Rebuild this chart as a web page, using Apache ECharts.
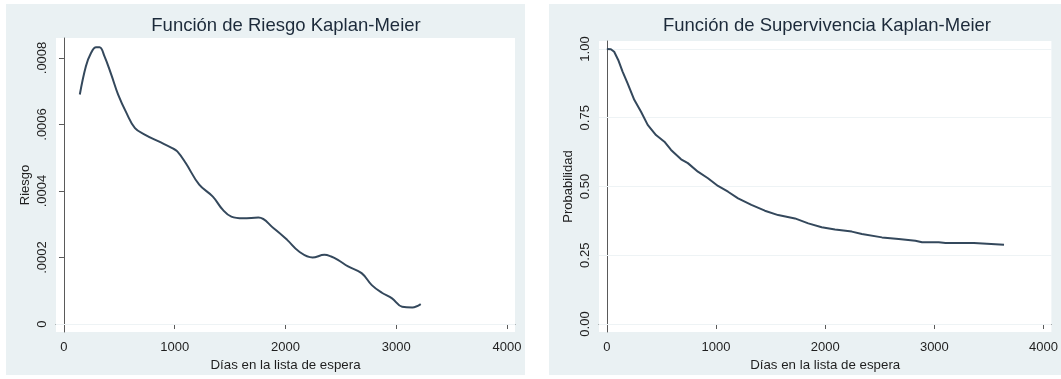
<!DOCTYPE html>
<html>
<head>
<meta charset="utf-8">
<script src="https://cdn.jsdelivr.net/npm/echarts@6/dist/echarts.min.js"></script>
<style>
  html, body { margin: 0; padding: 0; background: #ffffff; }
  #chart { width: 1061px; height: 379px; }
</style>
</head>
<body>
<div id="chart"></div>
<script>
// hazard curve (smoothed)
const riskDays = [143, 198, 244, 290, 321, 366, 427, 489, 565, 641, 733, 855, 977, 1023, 1099, 1221, 1344, 1435, 1511, 1618, 1756, 1893, 2015, 2122, 2244, 2351, 2412, 2473, 2565, 2687, 2779, 2870, 2962, 3053, 3145, 3221]
const riskValues = [0.00069, 0.000775, 0.000815, 0.000832, 0.000832, 0.000805, 0.00075, 0.00069, 0.000634, 0.000589, 0.000569, 0.000549, 0.000529, 0.000519, 0.000484, 0.000419, 0.000383, 0.000343, 0.000323, 0.000318, 0.00032, 0.000288, 0.000253, 0.000218, 0.0002, 0.000208, 0.000203, 0.000193, 0.000173, 0.000153, 0.000117, 0.000094, 0.000077, 0.000052, 0.00005, 0.00006]

// survival curve
const survDays = [0, 37, 67, 104, 144, 190, 251, 313, 374, 450, 527, 588, 680, 742, 834, 926, 1018, 1110, 1202, 1324, 1447, 1569, 1723, 1845, 1968, 2090, 2244, 2336, 2520, 2673, 2826, 2887, 3040, 3102, 3362, 3377, 3638]
const survValues = [1.0, 0.999, 0.99, 0.96, 0.918, 0.875, 0.815, 0.772, 0.724, 0.687, 0.663, 0.633, 0.599, 0.585, 0.554, 0.53, 0.502, 0.481, 0.457, 0.433, 0.412, 0.396, 0.384, 0.366, 0.352, 0.344, 0.336, 0.327, 0.315, 0.309, 0.303, 0.297, 0.297, 0.295, 0.295, 0.288, 0.288]

const dayTicks = [0, 1000, 2000, 3000, 4000]
const dayTickLabels = ['0', '1000', '2000', '3000', '4000']
const riskTicks = [0, 0.0002, 0.0004, 0.0006, 0.0008]
const riskTickLabels = ['0', '.0002', '.0004', '.0006', '.0008']
const survTicks = [0, 0.25, 0.5, 0.75, 1]
const survTickLabels = ['0.00', '0.25', '0.50', '0.75', '1.00']

const FONT = '"Liberation Sans", Arial, sans-serif'
const LINE = '#34485c'
const GRID_LINE = '#eef3f5'
const PANEL = '#eaf1f3'
const TEXT = '#1f1f1f'

function pairs(xs, ys) {
  return xs.map((x, i) => [x, ys[i]])
}

function labelFrom(ticks, labels) {
  return (value) => {
    const i = ticks.indexOf(value)
    return i >= 0 ? labels[i] : ''
  }
}

function xAxisFor(gridIndex) {
  return {
    type: 'value',
    gridIndex,
    min: -72,
    max: 4072,
    name: 'Días en la lista de espera',
    nameLocation: 'middle',
    nameGap: 20,
    nameTextStyle: { fontFamily: FONT, fontSize: 13.3, color: TEXT },
    axisLine: { show: true, lineStyle: { color: '#5a5a5a', width: 1 } },
    axisTick: { show: true, inside: false, length: 5, customValues: dayTicks, lineStyle: { color: '#5a5a5a' } },
    axisLabel: {
      customValues: dayTicks,
      margin: 9,
      fontFamily: FONT,
      fontSize: 13,
      color: TEXT,
      formatter: labelFrom(dayTicks, dayTickLabels)
    },
    splitLine: { show: false }
  }
}

function yAxisFor(gridIndex, name, min, max, ticks, labels) {
  return {
    type: 'value',
    gridIndex,
    min,
    max,
    name,
    nameLocation: 'middle',
    nameGap: 24,
    nameRotate: 90,
    nameTextStyle: { fontFamily: FONT, fontSize: 13, color: TEXT },
    axisLine: { show: true, lineStyle: { color: '#5a5a5a', width: 1 } },
    axisTick: { show: true, inside: false, length: 5, customValues: ticks, lineStyle: { color: '#5a5a5a' } },
    axisLabel: {
      customValues: ticks,
      rotate: 90,
      margin: 7,
      fontFamily: FONT,
      fontSize: 13,
      color: TEXT,
      formatter: labelFrom(ticks, labels)
    },
    splitLine: { show: false }
  }
}

// faint horizontal grid lines at the y ticks, kept under the curves
function gridSeries(axisIndex, ticks) {
  return {
    type: 'line',
    xAxisIndex: axisIndex,
    yAxisIndex: axisIndex,
    data: [],
    z: 1,
    silent: true,
    markLine: {
      z: 1,
      silent: true,
      symbol: 'none',
      label: { show: false },
      lineStyle: { color: GRID_LINE, width: 1, type: 'solid' },
      data: ticks.map((v) => ({ yAxis: v }))
    }
  }
}

const chart = echarts.init(document.getElementById('chart'), null, { renderer: 'canvas' })

chart.setOption({
  animation: false,
  backgroundColor: '#ffffff',
  graphic: [
    { type: 'rect', z: -10, shape: { x: 6, y: 4, width: 519, height: 371 }, style: { fill: PANEL } },
    { type: 'rect', z: -10, shape: { x: 549, y: 4, width: 519, height: 371 }, style: { fill: PANEL } }
  ],
  title: [
    {
      text: 'Función de Riesgo Kaplan-Meier',
      left: 286,
      top: 16,
      padding: 0,
      textAlign: 'center',
      textStyle: { fontFamily: FONT, fontSize: 18.5, fontWeight: 'normal', color: '#1c2a3a' }
    },
    {
      text: 'Función de Supervivencia Kaplan-Meier',
      left: 827,
      top: 16,
      padding: 0,
      textAlign: 'center',
      textStyle: { fontFamily: FONT, fontSize: 18.5, fontWeight: 'normal', color: '#1c2a3a' }
    }
  ],
  grid: [
    { left: 56, top: 38, width: 459, height: 294, backgroundColor: '#ffffff', show: true, borderWidth: 0 },
    { left: 599, top: 41, width: 457, height: 291, backgroundColor: '#ffffff', show: true, borderWidth: 0 }
  ],
  xAxis: [xAxisFor(0), xAxisFor(1)],
  yAxis: [
    yAxisFor(0, 'Riesgo', -0.000024, 0.00086, riskTicks, riskTickLabels),
    yAxisFor(1, 'Probabilidad', -0.029, 1.029, survTicks, survTickLabels)
  ],
  series: [
    gridSeries(0, riskTicks),
    gridSeries(1, survTicks),
    {
      type: 'line',
      xAxisIndex: 0,
      yAxisIndex: 0,
      data: pairs(riskDays, riskValues),
      smooth: 0.4,
      showSymbol: false,
      lineStyle: { color: LINE, width: 2 },
      z: 3
    },
    {
      type: 'line',
      xAxisIndex: 1,
      yAxisIndex: 1,
      data: pairs(survDays, survValues),
      showSymbol: false,
      lineStyle: { color: LINE, width: 2 },
      z: 3
    }
  ]
})
</script>
</body>
</html>
